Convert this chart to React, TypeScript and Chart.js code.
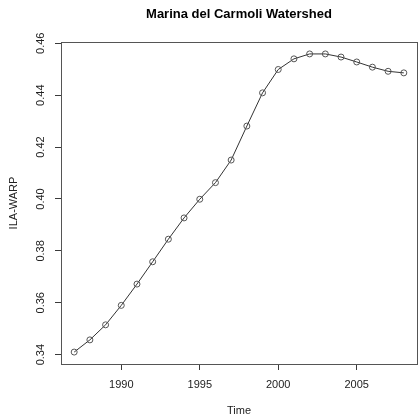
import React, { useEffect, useRef } from "react";
import { Chart, registerables } from "chart.js";

Chart.register(...registerables);

const years = [1987, 1988, 1989, 1990, 1991, 1992, 1993, 1994, 1995, 1996, 1997, 1998, 1999, 2000, 2001, 2002, 2003, 2004, 2005, 2006, 2007, 2008];
const ilaWarp = [0.3410, 0.3457, 0.3515, 0.3590, 0.3672, 0.3758, 0.3845, 0.3927, 0.3999, 0.4063, 0.4150, 0.4281, 0.4409, 0.4499, 0.4540, 0.4559, 0.4559, 0.4547, 0.4528, 0.4508, 0.4492, 0.4486];
const xTicks = [1990, 1995, 2000, 2005];
const yTicks = [0.34, 0.36, 0.38, 0.40, 0.42, 0.44, 0.46];
const titleText = "Marina del Carmoli Watershed";
const xLabel = "Time";
const yLabel = "ILA-WARP";

const FONT = "'Liberation Sans', Arial, Helvetica, sans-serif";
const INK = "#3a3a3a";

const boxPlugin = {
  id: "rbox",
  afterDraw(chart: any) {
    const { ctx, chartArea } = chart;
    ctx.save();
    ctx.strokeStyle = "#555";
    ctx.lineWidth = 1;
    ctx.strokeRect(
      Math.round(chartArea.left) + 0.5,
      Math.round(chartArea.top) + 0.5,
      Math.round(chartArea.right - chartArea.left),
      Math.round(chartArea.bottom - chartArea.top)
    );
    ctx.restore();
  },
};

export default function App() {
  const ref = useRef<HTMLCanvasElement>(null);
  useEffect(() => {
    if (!ref.current) return;
    const xr = years[years.length - 1] - years[0];
    const yMin = Math.min(...ilaWarp);
    const yMax = Math.max(...ilaWarp);
    const yr = yMax - yMin;
    const chart = new Chart(ref.current, {
      type: "line",
      data: {
        datasets: [
          {
            data: years.map((y, i) => ({ x: y, y: ilaWarp[i] })),
            borderColor: "#333",
            borderWidth: 1,
            pointRadius: 3,
            pointBorderColor: "#555",
            pointBackgroundColor: "rgba(0,0,0,0)",
            pointBorderWidth: 1,
            tension: 0,
            fill: false,
          },
        ],
      },
      options: {
        responsive: false,
        animation: false,
        devicePixelRatio: 1,
        layout: { padding: 0 },
        plugins: {
          legend: { display: false },
          tooltip: { enabled: false },
          title: {
            display: true,
            text: titleText,
            fullSize: false,
            color: "#000",
            font: { family: FONT, size: 13, weight: "bold" },
            padding: { top: 7, bottom: 19.4 },
          },
        },
        scales: {
          x: {
            type: "linear",
            min: years[0] - 0.04 * xr,
            max: years[years.length - 1] + 0.04 * xr,
            afterBuildTicks: (s: any) => {
              s.ticks = xTicks.map((v) => ({ value: v }));
            },
            afterFit: (s: any) => {
              s.height = 52;
            },
            grid: { drawOnChartArea: false, tickLength: 6, color: INK },
            border: { display: false },
            ticks: {
              color: "#222",
              font: { family: FONT, size: 11 },
              padding: 8,
              maxRotation: 0,
              callback: (v: any) => String(v),
            },
            title: {
              display: true,
              text: xLabel,
              color: "#222",
              font: { family: FONT, size: 11 },
              padding: { top: 0, bottom: -1.5 },
            },
          },
          y: {
            type: "linear",
            min: yMin - 0.04 * yr,
            max: yMax + 0.04 * yr,
            afterBuildTicks: (s: any) => {
              s.ticks = yTicks.map((v) => ({ value: v }));
            },
            afterFit: (s: any) => {
              s.width = 61;
            },
            grid: { drawOnChartArea: false, tickLength: 6, color: INK },
            border: { display: false },
            ticks: {
              color: "#222",
              font: { family: FONT, size: 11 },
              padding: 3,
              minRotation: 90,
              maxRotation: 90,
              crossAlign: "center",
              callback: (v: any) => Number(v).toFixed(2),
            },
            title: {
              display: true,
              text: yLabel,
              color: "#222",
              font: { family: FONT, size: 11 },
              padding: { top: 7.4, bottom: 0 },
            },
          },
        },
      },
      plugins: [boxPlugin],
    } as any);
    return () => chart.destroy();
  }, []);
  return (
    <div style={{ position: "fixed", left: 0, top: 0, width: 422, height: 416, background: "#fff" }}>
      <canvas ref={ref} width={422} height={416} style={{ display: "block", width: 422, height: 416 }} />
    </div>
  );
}
